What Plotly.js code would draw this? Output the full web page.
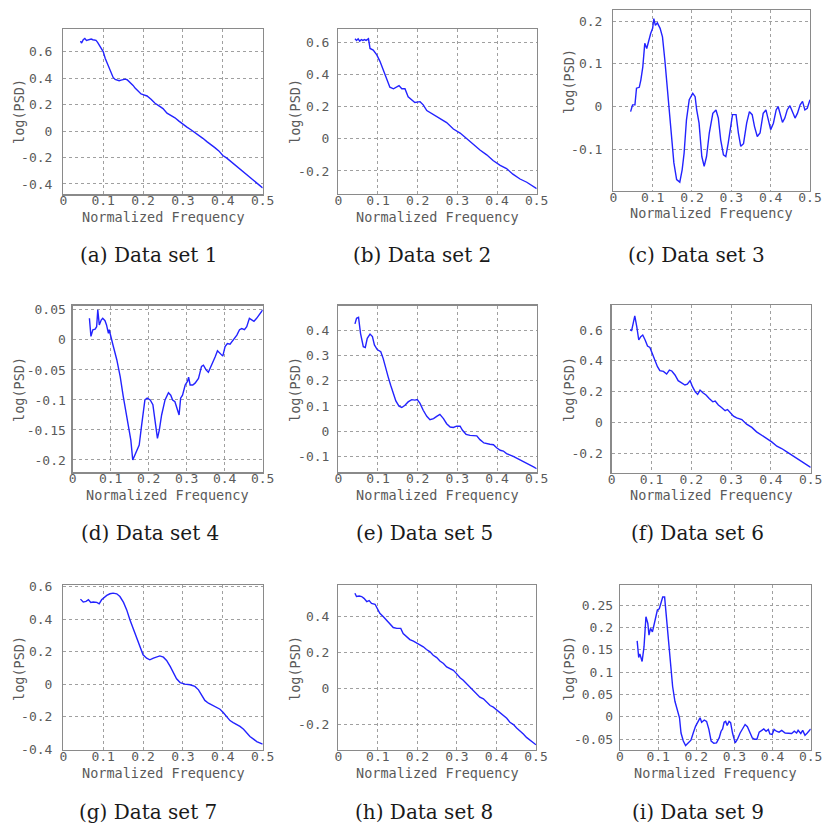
<!DOCTYPE html>
<html>
<head>
<meta charset="utf-8">
<script src="https://cdn.plot.ly/plotly-3.0.1.min.js"></script>
<style>html,body{margin:0;padding:0;background:#fff;}#plot{width:824px;height:825px;}</style>
</head>
<body>
<div id="plot"></div>
<script>
// ---------------- DATA ----------------
const xTickVals = [0, 0.1, 0.2, 0.3, 0.4, 0.5];
const xTickText = ["0", "0.1", "0.2", "0.3", "0.4", "0.5"];

const captions = ["(a) Data set 1", "(b) Data set 2", "(c) Data set 3",
                  "(d) Data set 4", "(e) Data set 5", "(f) Data set 6",
                  "(g) Data set 7", "(h) Data set 8", "(i) Data set 9"];
const xTitle = "Normalized Frequency";
const yTitle = "log(PSD)";

// Data set 1
const freq1 = [0.043,0.046,0.05,0.054,0.058,0.062,0.066,0.07,0.074,0.078,0.082,0.086,0.09,0.095,0.1,0.105,0.11,0.115,0.12,0.125,0.13,0.135,0.14,0.145,0.15,0.155,0.16,0.165,0.17,0.175,0.18,0.185,0.19,0.195,0.2,0.21,0.22,0.23,0.24,0.25,0.26,0.27,0.28,0.29,0.3,0.31,0.32,0.33,0.34,0.35,0.36,0.37,0.38,0.39,0.4,0.41,0.42,0.43,0.44,0.45,0.46,0.47,0.48,0.49,0.5];
const psd1  = [0.68,0.665,0.69,0.70,0.685,0.69,0.695,0.695,0.69,0.69,0.685,0.67,0.65,0.62,0.60,0.55,0.51,0.47,0.44,0.405,0.39,0.385,0.38,0.385,0.39,0.392,0.388,0.375,0.36,0.345,0.325,0.31,0.29,0.28,0.275,0.265,0.24,0.21,0.19,0.17,0.135,0.12,0.10,0.075,0.05,0.03,0.01,-0.01,-0.035,-0.055,-0.08,-0.10,-0.125,-0.15,-0.185,-0.205,-0.23,-0.255,-0.28,-0.30,-0.325,-0.35,-0.375,-0.40,-0.43];
const yTickVals1 = [-0.4,-0.2,0,0.2,0.4,0.6];
const yTickText1 = ["-0.4","-0.2","0","0.2","0.4","0.6"];

// Data set 2
const freq2 = [0.042,0.046,0.05,0.054,0.058,0.062,0.066,0.07,0.076,0.08,0.088,0.097,0.105,0.113,0.122,0.13,0.139,0.147,0.153,0.16,0.168,0.176,0.185,0.193,0.206,0.214,0.223,0.24,0.256,0.273,0.29,0.307,0.324,0.34,0.357,0.374,0.39,0.408,0.424,0.44,0.458,0.475,0.5];
const psd2  = [0.62,0.61,0.62,0.605,0.615,0.61,0.615,0.61,0.62,0.56,0.55,0.52,0.48,0.425,0.375,0.32,0.31,0.32,0.33,0.31,0.31,0.26,0.24,0.225,0.23,0.21,0.175,0.15,0.125,0.10,0.06,0.035,0.0,-0.035,-0.07,-0.10,-0.135,-0.165,-0.185,-0.22,-0.25,-0.27,-0.31];
const yTickVals2 = [-0.2,0,0.2,0.4,0.6];
const yTickText2 = ["-0.2","0","0.2","0.4","0.6"];

// Data set 3
const freq3 = [0.044,0.049,0.055,0.059,0.066,0.07,0.075,0.08,0.085,0.09,0.095,0.1,0.103,0.107,0.112,0.119,0.125,0.131,0.137,0.142,0.148,0.154,0.161,0.169,0.175,0.18,0.186,0.193,0.202,0.208,0.212,0.218,0.225,0.231,0.237,0.244,0.253,0.261,0.267,0.273,0.28,0.286,0.292,0.298,0.303,0.308,0.312,0.318,0.324,0.331,0.339,0.346,0.353,0.359,0.366,0.373,0.381,0.388,0.395,0.4,0.407,0.414,0.419,0.424,0.43,0.436,0.442,0.449,0.456,0.462,0.468,0.475,0.481,0.487,0.493,0.5];
const psd3  = [-0.012,0.004,0.004,0.043,0.045,0.062,0.093,0.148,0.136,0.156,0.171,0.183,0.206,0.19,0.196,0.183,0.163,0.109,0.047,-0.008,-0.07,-0.132,-0.171,-0.177,-0.148,-0.109,-0.031,0.016,0.031,0.023,-0.008,-0.039,-0.117,-0.14,-0.117,-0.062,-0.016,-0.008,-0.027,-0.078,-0.113,-0.117,-0.086,-0.047,-0.019,-0.019,-0.019,-0.062,-0.093,-0.087,-0.039,-0.012,-0.019,-0.047,-0.07,-0.062,-0.016,-0.008,-0.031,-0.054,-0.039,-0.008,0.0,-0.016,-0.037,-0.027,-0.008,0.002,-0.012,-0.027,-0.016,0.004,0.012,-0.008,-0.004,0.016];
const yTickVals3 = [-0.1,0,0.1,0.2];
const yTickText3 = ["-0.1","0","0.1","0.2"];

// Data set 4
const freq4 = [0.044,0.048,0.053,0.059,0.063,0.066,0.07,0.075,0.079,0.085,0.089,0.094,0.096,0.101,0.107,0.116,0.125,0.133,0.14,0.146,0.153,0.158,0.164,0.17,0.175,0.181,0.186,0.19,0.196,0.204,0.211,0.217,0.223,0.228,0.234,0.243,0.252,0.258,0.263,0.269,0.275,0.28,0.284,0.289,0.296,0.302,0.305,0.309,0.316,0.322,0.331,0.339,0.344,0.351,0.357,0.366,0.375,0.381,0.388,0.395,0.401,0.407,0.414,0.423,0.432,0.439,0.445,0.452,0.458,0.465,0.471,0.477,0.484,0.491,0.5];
const psd4  = [0.036,0.006,0.017,0.018,0.022,0.05,0.025,0.033,0.036,0.032,0.025,0.011,0.017,0.003,-0.011,-0.033,-0.061,-0.094,-0.122,-0.144,-0.167,-0.2,-0.192,-0.183,-0.175,-0.144,-0.119,-0.1,-0.097,-0.1,-0.108,-0.139,-0.164,-0.15,-0.125,-0.1,-0.088,-0.092,-0.1,-0.103,-0.114,-0.125,-0.097,-0.092,-0.075,-0.069,-0.062,-0.075,-0.075,-0.072,-0.064,-0.044,-0.042,-0.05,-0.054,-0.042,-0.028,-0.018,-0.023,-0.027,-0.011,-0.006,-0.007,0.0,0.008,0.017,0.019,0.017,0.022,0.036,0.033,0.031,0.036,0.043,0.05];
const yTickVals4 = [-0.2,-0.15,-0.1,-0.05,0,0.05];
const yTickText4 = ["-0.2","-0.15","-0.1","-0.05","0","0.05"];

// Data set 5
const freq5 = [0.042,0.046,0.051,0.056,0.063,0.068,0.073,0.08,0.086,0.091,0.098,0.107,0.113,0.12,0.126,0.132,0.139,0.145,0.153,0.16,0.168,0.176,0.185,0.193,0.199,0.206,0.214,0.223,0.231,0.24,0.248,0.256,0.265,0.273,0.282,0.29,0.298,0.307,0.313,0.322,0.332,0.349,0.357,0.367,0.382,0.391,0.399,0.408,0.416,0.424,0.441,0.458,0.475,0.492,0.5];
const psd5  = [0.424,0.446,0.45,0.387,0.334,0.331,0.367,0.384,0.374,0.341,0.323,0.314,0.288,0.242,0.213,0.182,0.149,0.12,0.099,0.094,0.103,0.116,0.125,0.123,0.125,0.11,0.083,0.059,0.046,0.05,0.059,0.067,0.05,0.03,0.017,0.015,0.02,0.02,0.004,-0.012,-0.016,-0.018,-0.033,-0.046,-0.051,-0.053,-0.065,-0.075,-0.078,-0.088,-0.099,-0.112,-0.125,-0.141,-0.148];
const yTickVals5 = [-0.1,0,0.1,0.2,0.3,0.4];
const yTickText5 = ["-0.1","0","0.1","0.2","0.3","0.4"];

// Data set 6
const freq6 = [0.046,0.05,0.054,0.058,0.063,0.068,0.073,0.078,0.084,0.09,0.096,0.103,0.109,0.115,0.121,0.13,0.138,0.145,0.151,0.159,0.167,0.176,0.184,0.19,0.197,0.203,0.21,0.216,0.222,0.229,0.237,0.245,0.254,0.26,0.268,0.276,0.285,0.291,0.297,0.306,0.314,0.327,0.339,0.352,0.364,0.377,0.389,0.402,0.415,0.427,0.44,0.452,0.465,0.477,0.49,0.5];
const psd6  = [0.6,0.596,0.643,0.691,0.622,0.535,0.557,0.567,0.535,0.496,0.487,0.437,0.394,0.362,0.336,0.331,0.314,0.34,0.334,0.308,0.271,0.253,0.243,0.249,0.271,0.232,0.199,0.182,0.21,0.193,0.178,0.156,0.134,0.139,0.113,0.097,0.076,0.084,0.069,0.041,0.03,0.019,-0.011,-0.032,-0.061,-0.082,-0.104,-0.126,-0.154,-0.169,-0.191,-0.212,-0.234,-0.256,-0.277,-0.292];
const yTickVals6 = [-0.2,0,0.2,0.4,0.6];
const yTickText6 = ["-0.2","0","0.2","0.4","0.6"];

// Data set 7
const freq7 = [0.043,0.05,0.057,0.063,0.069,0.075,0.084,0.09,0.096,0.102,0.109,0.117,0.125,0.134,0.142,0.151,0.159,0.167,0.176,0.184,0.192,0.2,0.209,0.217,0.226,0.234,0.242,0.251,0.259,0.268,0.276,0.284,0.293,0.305,0.318,0.33,0.339,0.347,0.355,0.364,0.376,0.385,0.393,0.401,0.41,0.418,0.426,0.435,0.443,0.452,0.46,0.468,0.477,0.485,0.5];
const psd7  = [0.523,0.505,0.509,0.519,0.503,0.505,0.503,0.494,0.519,0.533,0.546,0.556,0.56,0.556,0.539,0.503,0.457,0.396,0.334,0.283,0.228,0.181,0.16,0.15,0.16,0.166,0.174,0.166,0.146,0.109,0.068,0.033,0.01,0.0,-0.004,-0.014,-0.035,-0.066,-0.1,-0.117,-0.133,-0.142,-0.154,-0.174,-0.199,-0.224,-0.236,-0.248,-0.26,-0.277,-0.302,-0.322,-0.338,-0.353,-0.369];
const yTickVals7 = [-0.4,-0.2,0,0.2,0.4,0.6];
const yTickText7 = ["-0.4","-0.2","0","0.2","0.4","0.6"];

// Data set 8
const freq8 = [0.042,0.046,0.053,0.059,0.065,0.072,0.078,0.084,0.093,0.099,0.105,0.114,0.122,0.131,0.139,0.148,0.158,0.164,0.173,0.181,0.19,0.198,0.207,0.215,0.223,0.232,0.24,0.249,0.257,0.266,0.274,0.282,0.291,0.299,0.308,0.316,0.325,0.333,0.341,0.35,0.358,0.367,0.375,0.384,0.392,0.4,0.409,0.417,0.426,0.434,0.443,0.451,0.46,0.468,0.476,0.485,0.5];
const psd8  = [0.53,0.512,0.515,0.512,0.502,0.484,0.49,0.474,0.469,0.447,0.419,0.4,0.381,0.363,0.34,0.335,0.335,0.307,0.288,0.273,0.264,0.255,0.242,0.233,0.218,0.205,0.186,0.173,0.154,0.14,0.121,0.112,0.102,0.084,0.061,0.047,0.028,0.006,-0.009,-0.028,-0.047,-0.056,-0.074,-0.093,-0.102,-0.117,-0.13,-0.149,-0.164,-0.186,-0.199,-0.218,-0.233,-0.251,-0.27,-0.285,-0.311];
const yTickVals8 = [-0.2,0,0.2,0.4];
const yTickText8 = ["-0.2","0","0.2","0.4"];

// Data set 9
const freq9 = [0.045,0.049,0.052,0.058,0.063,0.068,0.073,0.076,0.08,0.085,0.089,0.094,0.098,0.103,0.108,0.112,0.117,0.122,0.128,0.133,0.138,0.144,0.15,0.156,0.16,0.166,0.172,0.179,0.186,0.192,0.198,0.205,0.21,0.214,0.221,0.227,0.233,0.239,0.246,0.253,0.26,0.265,0.269,0.273,0.277,0.281,0.286,0.29,0.295,0.302,0.308,0.315,0.322,0.328,0.334,0.341,0.347,0.353,0.359,0.365,0.371,0.377,0.383,0.389,0.393,0.399,0.404,0.41,0.417,0.424,0.433,0.441,0.45,0.457,0.463,0.467,0.474,0.479,0.485,0.491,0.5];
const psd9  = [0.17,0.133,0.141,0.124,0.157,0.224,0.209,0.183,0.198,0.19,0.205,0.224,0.239,0.242,0.257,0.268,0.268,0.216,0.157,0.105,0.068,0.035,0.016,-0.002,-0.036,-0.054,-0.064,-0.059,-0.052,-0.036,-0.021,-0.01,-0.002,-0.012,-0.007,-0.01,-0.028,-0.054,-0.059,-0.058,-0.047,-0.032,-0.027,-0.012,-0.01,-0.019,-0.01,-0.013,-0.036,-0.058,-0.05,-0.036,-0.024,-0.017,-0.022,-0.034,-0.047,-0.05,-0.05,-0.034,-0.03,-0.027,-0.032,-0.028,-0.038,-0.039,-0.028,-0.032,-0.034,-0.03,-0.036,-0.037,-0.037,-0.032,-0.036,-0.03,-0.037,-0.03,-0.041,-0.036,-0.027];
const yTickVals9 = [-0.05,0,0.05,0.1,0.15,0.2,0.25];
const yTickText9 = ["-0.05","0","0.05","0.1","0.15","0.2","0.25"];

// ---------------- LAYOUT ----------------
const W = 824, H = 825;
const freqs = [freq1,freq2,freq3,freq4,freq5,freq6,freq7,freq8,freq9];
const psds  = [psd1,psd2,psd3,psd4,psd5,psd6,psd7,psd8,psd9];
const yTV = [yTickVals1,yTickVals2,yTickVals3,yTickVals4,yTickVals5,yTickVals6,yTickVals7,yTickVals8,yTickVals9];
const yTT = [yTickText1,yTickText2,yTickText3,yTickText4,yTickText5,yTickText6,yTickText7,yTickText8,yTickText9];

// plot boxes in pixels: [left, right, top, bottom]
const boxes = [
  [63.3,262.7,29.3,194.3],[338.3,536.7,29.3,194],[613.3,810,10,190.7],
  [72.7,262.7,305.7,472.3],[338.3,536.7,305.7,472.3],[611.7,810.7,305,472.7],
  [63.3,262.7,585,750],[338.3,536,585,750],[620,810.7,585,750]
];
const yRanges = [[-0.478,0.769],[-0.343,0.679],[-0.197,0.226],
                 [-0.2205,0.057],[-0.162,0.496],[-0.326,0.762],
                 [-0.405,0.61],[-0.34,0.576],[-0.074,0.295]];
const yTitlePos = [[19,112],[295,112],[569,82],[19,390],[295,390],[569,390],[19,669],[295,669],[569,669]];
const capPos = [[148,255],[422,255],[696,255],[150,533],[424,533],[697,533],[148,812],[424,812],[698,812]];
const yLabStand = [7,5,7,3,5,5,7,5,3];

const px = x => x / W;
const py = y => 1 - y / H;

const monoFam = "DejaVu Sans Mono, Liberation Mono, monospace";
const tickFont = {family: monoFam, size: 13, color: "#5a5a5a"};
const titleFont = {family: monoFam, size: 13.5, color: "#5a5a5a"};

const data = [];
const layout = {
  width: W, height: H,
  margin: {l: 0, r: 0, t: 0, b: 0},
  paper_bgcolor: "#fff", plot_bgcolor: "#fff",
  showlegend: false,
  annotations: []
};

for (let i = 0; i < 9; i++) {
  const n = i === 0 ? "" : String(i + 1);
  const b = boxes[i];
  data.push({
    x: freqs[i], y: psds[i], type: "scatter", mode: "lines",
    line: {color: "rgb(35,35,255)", width: 1.4},
    xaxis: "x" + n, yaxis: "y" + n, hoverinfo: "skip"
  });
  layout["xaxis" + n] = {
    domain: [px(b[0]), px(b[1])], anchor: "y" + n,
    range: [0, 0.5], tickvals: xTickVals, ticktext: xTickText,
    showline: true, mirror: true, linecolor: "#8a8a8a", linewidth: 1.3,
    showgrid: true, gridcolor: "#a0a0a0", griddash: "dot", gridwidth: 1,
    zeroline: false, ticks: "", tickfont: tickFont, automargin: false,
    ticklabelstandoff: -6, fixedrange: true
  };
  layout["yaxis" + n] = {
    domain: [py(b[3]), py(b[2])], anchor: "x" + n,
    range: yRanges[i], tickvals: yTV[i], ticktext: yTT[i],
    showline: true, mirror: true, linecolor: "#8a8a8a", linewidth: 1.3,
    showgrid: true, gridcolor: "#a0a0a0", griddash: "dot", gridwidth: 1,
    zeroline: false, ticks: "", tickfont: tickFont, automargin: false,
    ticklabelstandoff: yLabStand[i], fixedrange: true
  };
  layout.annotations.push({
    text: xTitle, xref: "paper", yref: "paper",
    x: px((b[0] + b[1]) / 2), y: py(b[3] + 22.5),
    xanchor: "center", yanchor: "middle", showarrow: false, font: titleFont
  });
  layout.annotations.push({
    text: yTitle, xref: "paper", yref: "paper",
    x: px(yTitlePos[i][0]), y: py(yTitlePos[i][1]), textangle: -90,
    xanchor: "center", yanchor: "middle", showarrow: false, font: titleFont
  });
  layout.annotations.push({
    text: captions[i], xref: "paper", yref: "paper",
    x: px(capPos[i][0]), y: py(capPos[i][1]),
    xanchor: "center", yanchor: "middle", showarrow: false,
    font: {family: "DejaVu Serif, serif", size: 20, color: "#1a1a1a"}
  });
}

Plotly.newPlot("plot", data, layout, {staticPlot: true, displayModeBar: false});
</script>
</body>
</html>
